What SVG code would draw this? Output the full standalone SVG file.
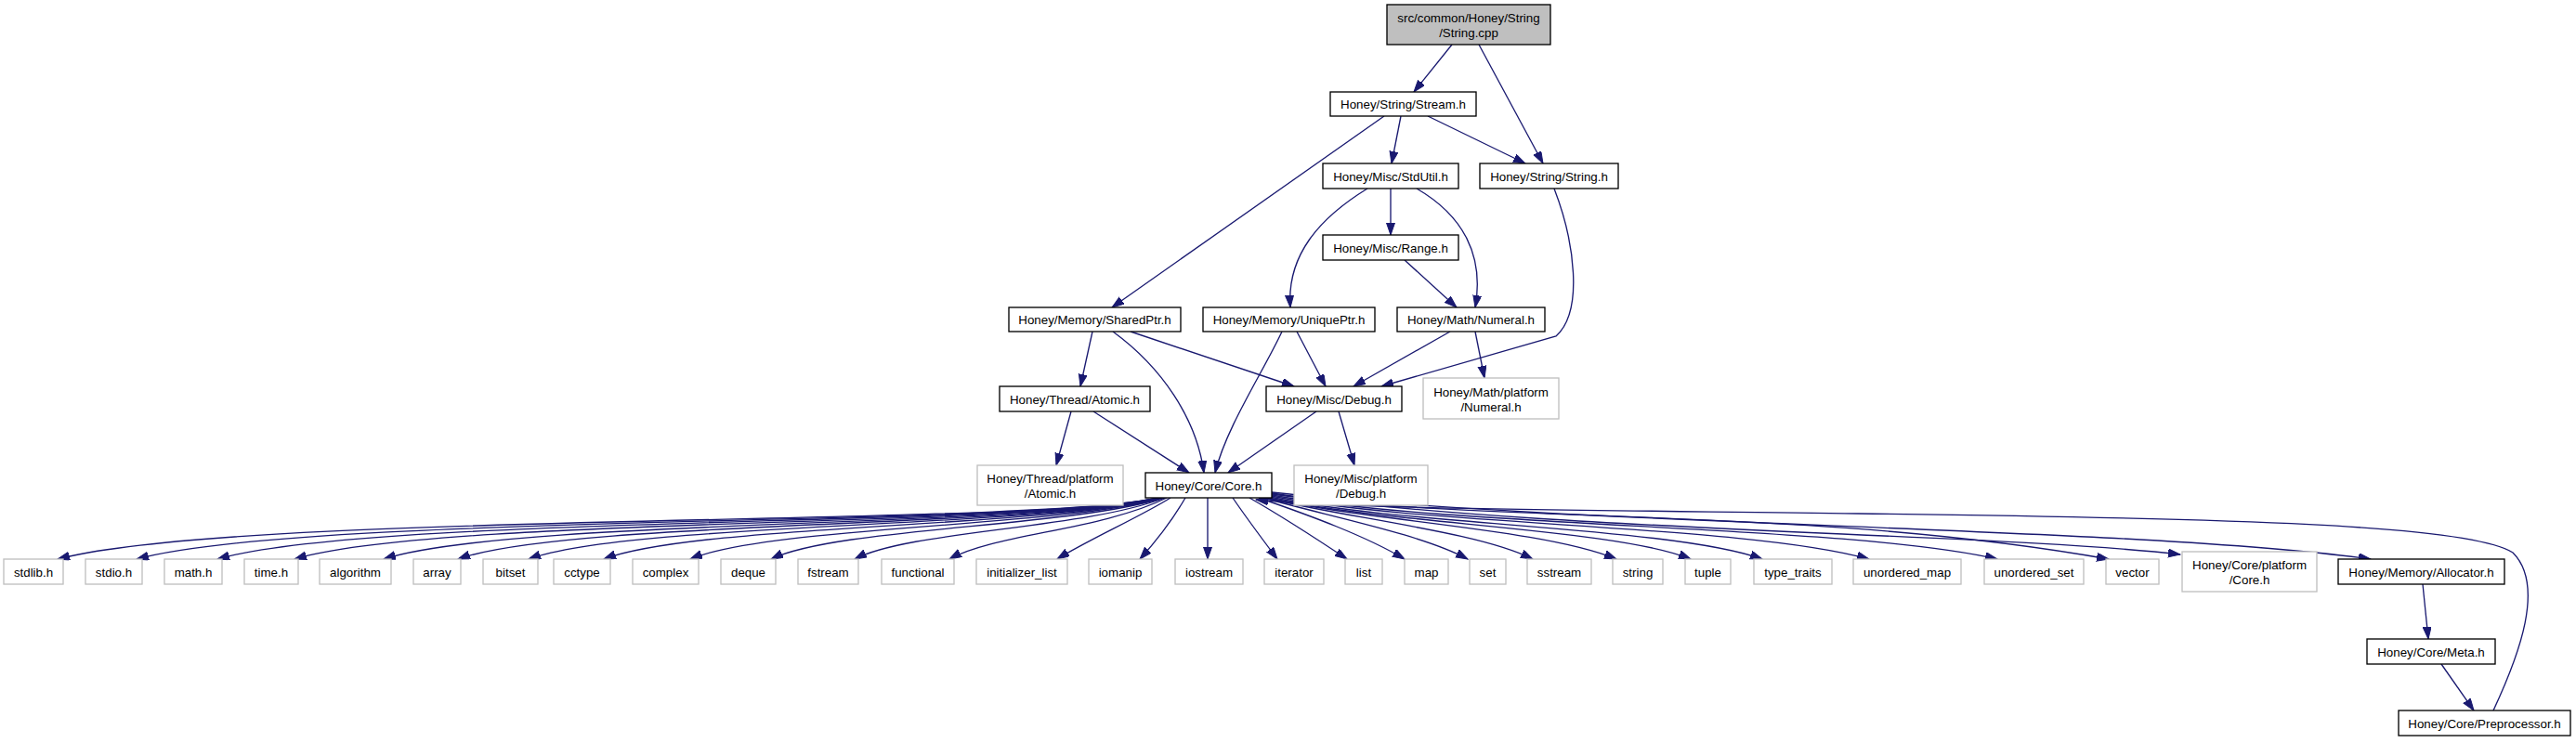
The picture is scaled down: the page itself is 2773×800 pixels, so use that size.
<svg xmlns="http://www.w3.org/2000/svg" width="2773" height="800" viewBox="0 0 2773 800">
<style>
text{font-family:"Liberation Sans",Arial,Helvetica,sans-serif;font-size:13.33px;text-anchor:middle;fill:#000}
.n rect{fill:#fff;stroke:#000;stroke-width:1.33}
.g rect{fill:#fff;stroke:#bfbfbf;stroke-width:1.33}
.r rect{fill:#bfbfbf;stroke:#000;stroke-width:1.33}
#edges path{fill:none;stroke:#191970;stroke-width:1.33;marker-end:url(#arr)}
</style>
<defs>
<marker id="arr" markerUnits="userSpaceOnUse" markerWidth="14" markerHeight="10" refX="13" refY="4.5" orient="auto">
<path d="M0,0 L13,4.5 L0,9 z" fill="#191970" stroke="#191970" stroke-width="1"/>
</marker>
</defs>
<rect width="2773" height="800" fill="#fff"/>
<g id="edges">
<path d="M1563,48 L1522,99"/>
<path d="M1592,48 L1661,176"/>
<path d="M1490,125 L1197,331"/>
<path d="M1508,125 L1498,176"/>
<path d="M1537,125 L1642,176"/>
<path d="M1472,203 C1420,235 1385,275 1389,331"/>
<path d="M1497,203 L1497,253"/>
<path d="M1525,203 C1575,232 1598,275 1588,331"/>
<path d="M1673,203 C1695,260 1705,335 1675,362 L1487,416"/>
<path d="M1512,280 L1568,331"/>
<path d="M1176,357 L1163,416"/>
<path d="M1198,357 C1250,395 1288,450 1296,509"/>
<path d="M1217,357 L1393,416"/>
<path d="M1380,357 C1360,400 1320,460 1308,509"/>
<path d="M1396,357 L1427,416"/>
<path d="M1561,357 L1457,416"/>
<path d="M1588,357 L1598,407"/>
<path d="M1153,443 L1137,501"/>
<path d="M1177,443 L1280,509"/>
<path d="M1417,443 L1322,509"/>
<path d="M1441,443 L1458,501"/>
<path d="M1246,536 C1110,568 260,550 62,602"/>
<path d="M1246,536 C1110,568 330,552 147,602"/>
<path d="M1247,536 C1110,568 400,554 234,602"/>
<path d="M1248,536 C1115,568 470,556 317,602"/>
<path d="M1249,536 C1120,568 550,558 413,602"/>
<path d="M1250,536 C1125,568 610,560 493,602"/>
<path d="M1251,536 C1130,568 680,562 569,602"/>
<path d="M1251,536 C1135,568 750,564 650,602"/>
<path d="M1252,536 C1140,568 830,566 743,602"/>
<path d="M1253,536 C1150,568 900,568 830,602"/>
<path d="M1254,536 C1165,570 980,571 920,602"/>
<path d="M1256,536 C1185,571 1070,575 1022,602"/>
<path d="M1260,536 C1230,555 1170,582 1138,602"/>
<path d="M1276,536 C1262,560 1245,582 1227,602"/>
<path d="M1300,536 L1300,602"/>
<path d="M1327,536 C1342,558 1360,582 1375,602"/>
<path d="M1345,536 C1380,556 1420,582 1450,602"/>
<path d="M1355,536 C1410,555 1470,577 1512,602"/>
<path d="M1360,536 C1430,556 1530,575 1580,602"/>
<path d="M1362,536 C1450,558 1590,572 1650,602"/>
<path d="M1364,536 C1470,561 1660,569 1740,602"/>
<path d="M1366,536 C1490,564 1740,569 1820,602"/>
<path d="M1367,535 C1510,566 1800,567 1897,602"/>
<path d="M1368,534 C1540,567 1880,565 2012,602"/>
<path d="M1369,533 C1570,569 1990,565 2150,602"/>
<path d="M1369,532 C1600,564 1950,545 2270,602"/>
<path d="M1369,531 C1650,572 2150,574 2347,597"/>
<path d="M1369,530 C1700,567 2300,567 2552,602"/>
<path d="M2608,629 L2614,688"/>
<path d="M2628,715 L2663,765"/>
<path d="M2684,765 C2712,705 2740,630 2705,595 C2660,565 2400,558 2000,553 C1700,549 1450,548 1352,538"/>
</g>
<g id="node_root" class="r"><rect x="1493" y="5" width="176" height="43"/><text x="1581" y="24">src/common/Honey/String</text><text x="1581" y="40">/String.cpp</text></g>
<g id="node_stream" class="n"><rect x="1432" y="99" width="157" height="26"/><text x="1510.5" y="117">Honey/String/Stream.h</text></g>
<g id="node_stdutil" class="n"><rect x="1424" y="176" width="146" height="27"/><text x="1497" y="194.5">Honey/Misc/StdUtil.h</text></g>
<g id="node_stringh" class="n"><rect x="1593" y="176" width="149" height="27"/><text x="1667.5" y="194.5">Honey/String/String.h</text></g>
<g id="node_range" class="n"><rect x="1424" y="253" width="146" height="27"/><text x="1497" y="271.5">Honey/Misc/Range.h</text></g>
<g id="node_sharedptr" class="n"><rect x="1086" y="331" width="185" height="26"/><text x="1178.5" y="349">Honey/Memory/SharedPtr.h</text></g>
<g id="node_uniqueptr" class="n"><rect x="1295" y="331" width="185" height="26"/><text x="1387.5" y="349">Honey/Memory/UniquePtr.h</text></g>
<g id="node_numeral" class="n"><rect x="1504" y="331" width="159" height="26"/><text x="1583.5" y="349">Honey/Math/Numeral.h</text></g>
<g id="node_atomic" class="n"><rect x="1076" y="416" width="162" height="27"/><text x="1157" y="434.5">Honey/Thread/Atomic.h</text></g>
<g id="node_debug" class="n"><rect x="1363" y="416" width="146" height="27"/><text x="1436" y="434.5">Honey/Misc/Debug.h</text></g>
<g id="node_pnumeral" class="g"><rect x="1532" y="407" width="146" height="44"/><text x="1605" y="426.5">Honey/Math/platform</text><text x="1605" y="442.5">/Numeral.h</text></g>
<g id="node_core" class="n"><rect x="1233" y="509" width="136" height="27"/><text x="1301" y="527.5">Honey/Core/Core.h</text></g>
<g id="node_patomic" class="g"><rect x="1052" y="501" width="157" height="43"/><text x="1130.5" y="520">Honey/Thread/platform</text><text x="1130.5" y="536">/Atomic.h</text></g>
<g id="node_pdebug" class="g"><rect x="1393" y="501" width="144" height="43"/><text x="1465" y="520">Honey/Misc/platform</text><text x="1465" y="536">/Debug.h</text></g>
<g id="node_stdlib" class="g"><rect x="4" y="602" width="64" height="27"/><text x="36" y="620.5">stdlib.h</text></g>
<g id="node_stdio" class="g"><rect x="92" y="602" width="61" height="27"/><text x="122.5" y="620.5">stdio.h</text></g>
<g id="node_math" class="g"><rect x="177" y="602" width="62" height="27"/><text x="208" y="620.5">math.h</text></g>
<g id="node_time" class="g"><rect x="263" y="602" width="58" height="27"/><text x="292" y="620.5">time.h</text></g>
<g id="node_algorithm" class="g"><rect x="344" y="602" width="77" height="27"/><text x="382.5" y="620.5">algorithm</text></g>
<g id="node_array" class="g"><rect x="445" y="602" width="51" height="27"/><text x="470.5" y="620.5">array</text></g>
<g id="node_bitset" class="g"><rect x="520" y="602" width="59" height="27"/><text x="549.5" y="620.5">bitset</text></g>
<g id="node_cctype" class="g"><rect x="596" y="602" width="61" height="27"/><text x="626.5" y="620.5">cctype</text></g>
<g id="node_complex" class="g"><rect x="681" y="602" width="71" height="27"/><text x="716.5" y="620.5">complex</text></g>
<g id="node_deque" class="g"><rect x="776" y="602" width="59" height="27"/><text x="805.5" y="620.5">deque</text></g>
<g id="node_fstream" class="g"><rect x="859" y="602" width="65" height="27"/><text x="891.5" y="620.5">fstream</text></g>
<g id="node_functional" class="g"><rect x="949" y="602" width="78" height="27"/><text x="988" y="620.5">functional</text></g>
<g id="node_initlist" class="g"><rect x="1051" y="602" width="98" height="27"/><text x="1100" y="620.5">initializer_list</text></g>
<g id="node_iomanip" class="g"><rect x="1172" y="602" width="68" height="27"/><text x="1206" y="620.5">iomanip</text></g>
<g id="node_iostream" class="g"><rect x="1265" y="602" width="73" height="27"/><text x="1301.5" y="620.5">iostream</text></g>
<g id="node_iterator" class="g"><rect x="1361" y="602" width="64" height="27"/><text x="1393" y="620.5">iterator</text></g>
<g id="node_list" class="g"><rect x="1448" y="602" width="40" height="27"/><text x="1468" y="620.5">list</text></g>
<g id="node_map" class="g"><rect x="1512" y="602" width="47" height="27"/><text x="1535.5" y="620.5">map</text></g>
<g id="node_set" class="g"><rect x="1582" y="602" width="39" height="27"/><text x="1601.5" y="620.5">set</text></g>
<g id="node_sstream" class="g"><rect x="1644" y="602" width="69" height="27"/><text x="1678.5" y="620.5">sstream</text></g>
<g id="node_string" class="g"><rect x="1736" y="602" width="54" height="27"/><text x="1763" y="620.5">string</text></g>
<g id="node_tuple" class="g"><rect x="1814" y="602" width="49" height="27"/><text x="1838.5" y="620.5">tuple</text></g>
<g id="node_typetraits" class="g"><rect x="1888" y="602" width="84" height="27"/><text x="1930" y="620.5">type_traits</text></g>
<g id="node_umap" class="g"><rect x="1995" y="602" width="116" height="27"/><text x="2053" y="620.5">unordered_map</text></g>
<g id="node_uset" class="g"><rect x="2136" y="602" width="107" height="27"/><text x="2189.5" y="620.5">unordered_set</text></g>
<g id="node_vector" class="g"><rect x="2267" y="602" width="57" height="27"/><text x="2295.5" y="620.5">vector</text></g>
<g id="node_pcore" class="g"><rect x="2349" y="594" width="145" height="43"/><text x="2421.5" y="613">Honey/Core/platform</text><text x="2421.5" y="629">/Core.h</text></g>
<g id="node_allocator" class="n"><rect x="2517" y="602" width="179" height="27"/><text x="2606.5" y="620.5">Honey/Memory/Allocator.h</text></g>
<g id="node_meta" class="n"><rect x="2548" y="688" width="138" height="27"/><text x="2617" y="706.5">Honey/Core/Meta.h</text></g>
<g id="node_preproc" class="n"><rect x="2582" y="765" width="185" height="27"/><text x="2674.5" y="783.5">Honey/Core/Preprocessor.h</text></g>
</svg>
